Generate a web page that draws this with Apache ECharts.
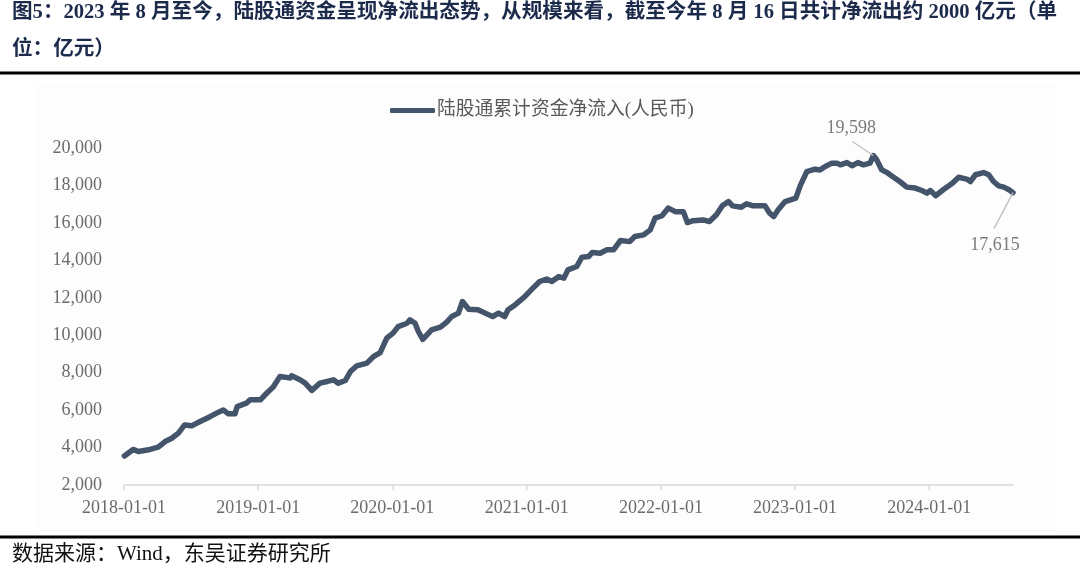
<!DOCTYPE html>
<html><head><meta charset="utf-8">
<script src="https://cdn.jsdelivr.net/npm/echarts@6/dist/echarts.min.js"></script>
<style>html,body{margin:0;padding:0;background:#fff}#c{width:1080px;height:568px}</style>
</head><body><div id="c"></div>
<script>
const titleLine1 = '图5：2023 年 8 月至今，陆股通资金呈现净流出态势，从规模来看，截至今年 8 月 16 日共计净流出约 2000 亿元（单';
const titleLine2 = '位：亿元）';
const sourceText = '数据来源：Wind，东吴证券研究所';
const seriesName = '陆股通累计资金净流入(人民币)';

const dates = [
'2018-01-02','2018-01-26','2018-02-09','2018-03-13','2018-04-04','2018-04-23','2018-05-11','2018-05-29','2018-06-15','2018-07-04',
'2018-07-27','2018-08-23','2018-09-10','2018-09-28','2018-10-12','2018-10-30','2018-11-05','2018-11-30','2018-12-10','2019-01-07',
'2019-01-24','2019-02-11','2019-03-01','2019-03-15','2019-03-29','2019-04-02','2019-04-25','2019-05-09','2019-05-27','2019-06-18',
'2019-07-08','2019-07-25','2019-08-07','2019-08-26','2019-09-09','2019-09-26','2019-10-24','2019-11-11','2019-11-29','2019-12-17',
'2020-01-03','2020-01-17','2020-02-10','2020-02-18','2020-03-03','2020-03-12','2020-03-24','2020-04-17','2020-05-11','2020-05-28',
'2020-06-11','2020-06-29','2020-07-10','2020-07-27','2020-08-21','2020-09-14','2020-09-30','2020-10-16','2020-11-02','2020-11-11',
'2020-11-30','2020-12-25','2021-01-15','2021-02-05','2021-02-24','2021-03-10','2021-03-29','2021-04-12','2021-04-23','2021-05-17',
'2021-05-31','2021-06-18','2021-06-28','2021-07-20','2021-08-06','2021-08-25','2021-09-13','2021-10-08','2021-10-22','2021-11-15',
'2021-12-03','2021-12-16','2022-01-04','2022-01-21','2022-02-09','2022-03-03','2022-03-14','2022-03-30','2022-04-26','2022-05-13',
'2022-06-01','2022-06-17','2022-07-04','2022-07-15','2022-08-08','2022-08-22','2022-09-09','2022-10-11','2022-10-24','2022-11-04',
'2022-11-16','2022-12-05','2023-01-03','2023-01-16','2023-02-02','2023-02-24','2023-03-10','2023-03-24','2023-04-11','2023-04-25',
'2023-05-04','2023-05-22','2023-06-05','2023-06-21','2023-07-06','2023-07-24','2023-08-02','2023-08-11','2023-08-25','2023-09-08',
'2023-09-26','2023-10-13','2023-11-01','2023-11-24','2023-12-12','2023-12-26','2024-01-04','2024-01-19','2024-02-08','2024-03-04',
'2024-03-21','2024-04-12','2024-04-22','2024-05-06','2024-05-28','2024-06-11','2024-06-24','2024-07-08','2024-07-22','2024-08-05',
'2024-08-16'
];
const values = [
3550,3900,3790,3900,4020,4320,4500,4770,5210,5160,
5390,5650,5840,6010,5800,5800,6190,6370,6550,6550,
6900,7230,7790,7760,7710,7830,7620,7440,7050,7440,
7530,7620,7440,7580,8060,8360,8510,8860,9075,9840,
10110,10460,10640,10820,10640,10200,9780,10290,10430,10700,
11000,11180,11800,11390,11360,11140,11000,11180,11000,11360,
11620,12030,12460,12870,13000,12870,13130,13050,13490,13670,
14170,14200,14420,14380,14560,14560,15060,15000,15270,15360,
15630,16250,16380,16790,16600,16600,16020,16120,16160,16070,
16430,16910,17140,16910,16840,17020,16910,16910,16520,16340,
16700,17140,17320,18030,18740,18870,18830,19010,19190,19190,
19100,19220,19050,19220,19100,19190,19598,19370,18830,18690,
18440,18210,17910,17860,17730,17590,17730,17450,17770,18120,
18440,18340,18210,18570,18690,18570,18210,17980,17910,17770,
17615
];
const xMinDate = '2018-01-01';
const xMaxDate = '2024-08-16';
const yMin = 2000, yMax = 20000, yStep = 2000;
const annotDates = ['2023-08-02','2024-08-16'];
const annotValues = [19598, 17615];
const annotLabelOffsets = [[-22,-27],[-18,53]];
const annotLeaderEnds = [[-21,-14],[-19,36]];

const DAY = 86400000;
const fmtNum = v => Number(v).toLocaleString('en-US');
const serif = '"Liberation Serif", "Noto Sans CJK SC", serif';
const cjk = '"Liberation Serif", "Noto Sans CJK SC", sans-serif';

const chart = echarts.init(document.getElementById('c'), null, {renderer:'canvas'});
const baseGraphic = [
  {type:'rect', z:-10, shape:{x:35,y:84,width:1022,height:447}, style:{fill:'#fdfdfd'}},
  {type:'text', x:12, y:13, style:{text:titleLine1, fontSize:20.6, fontWeight:'bold', fontFamily:cjk, fill:'#1c2b4b', verticalAlign:'middle'}},
  {type:'text', x:12, y:50, style:{text:titleLine2, fontSize:20.6, fontWeight:'bold', fontFamily:cjk, fill:'#1c2b4b', verticalAlign:'middle'}},
  {type:'line', shape:{x1:0,y1:73,x2:1080,y2:73}, style:{stroke:'#000', lineWidth:3}},
  {type:'line', shape:{x1:0,y1:537,x2:1080,y2:537}, style:{stroke:'#000', lineWidth:3}},
  {type:'text', x:12, y:554, style:{text:sourceText, fontSize:21, fontFamily:cjk, fill:'#111', verticalAlign:'middle'}}
];
chart.setOption({
  animation: false,
  backgroundColor: '#ffffff',
  graphic: baseGraphic,
  legend: {
    data: [{name: seriesName, icon: 'roundRect'}],
    left: 385, top: 96,
    itemWidth: 45, itemHeight: 5, itemGap: 10,
    textStyle: {fontSize: 18.8, color: '#595959', fontFamily: cjk, padding: [0,0,0,-3]}
  },
  grid: {left: 124, right: 67, top: 148, bottom: 83, containLabel: false},
  xAxis: {
    type: 'time',
    min: xMinDate, max: xMaxDate,
    minInterval: 365 * DAY, maxInterval: 366 * DAY,
    axisLine: {show: true, lineStyle: {color: '#d9d9d9', width: 1.5}},
    axisTick: {show: true, length: 5, lineStyle: {color: '#d9d9d9', width: 1.5}},
    axisLabel: {
      formatter: '{yyyy}-{MM}-{dd}',
      showMaxLabel: false,
      fontSize: 18, color: '#6b6b6b', fontFamily: serif, margin: 14
    },
    splitLine: {show: false}
  },
  yAxis: {
    type: 'value',
    min: yMin, max: yMax, interval: yStep,
    axisLine: {show: false}, axisTick: {show: false}, splitLine: {show: false},
    axisLabel: {formatter: fmtNum, fontSize: 18, color: '#6b6b6b', fontFamily: serif, margin: 22}
  },
  series: [
    {
      name: seriesName, type: 'line', showSymbol: false, symbol: 'none',
      data: dates.map((d, i) => [d, values[i]]),
      lineStyle: {color: '#44546a', width: 5.5, join: 'round', cap: 'round'},
      itemStyle: {color: '#44546a'},
      z: 3
    },
    {
      name: 'annot', type: 'scatter', symbolSize: 1,
      itemStyle: {color: '#44546a'},
      data: annotDates.map((d, i) => [d, annotValues[i]]),
      label: {show: true, position: 'inside', formatter: p => fmtNum(p.value[1]), fontSize: 18, color: '#595959', fontFamily: serif},
      labelLayout: p => ({dx: annotLabelOffsets[p.dataIndex][0], dy: annotLabelOffsets[p.dataIndex][1]}),
      z: 4
    }
  ]
});
// leader lines anchored at the data points via the chart's own scales
const leaders = annotDates.map((d, i) => {
  const p = chart.convertToPixel({seriesIndex: 1}, [d, annotValues[i]]);
  return {type:'line', z: 5, shape:{x1:p[0], y1:p[1], x2:p[0]+annotLeaderEnds[i][0], y2:p[1]+annotLeaderEnds[i][1]},
          style:{stroke:'#bfbfbf', lineWidth:1.3}};
});
chart.setOption({graphic: baseGraphic.concat(leaders)});
</script></body></html>
